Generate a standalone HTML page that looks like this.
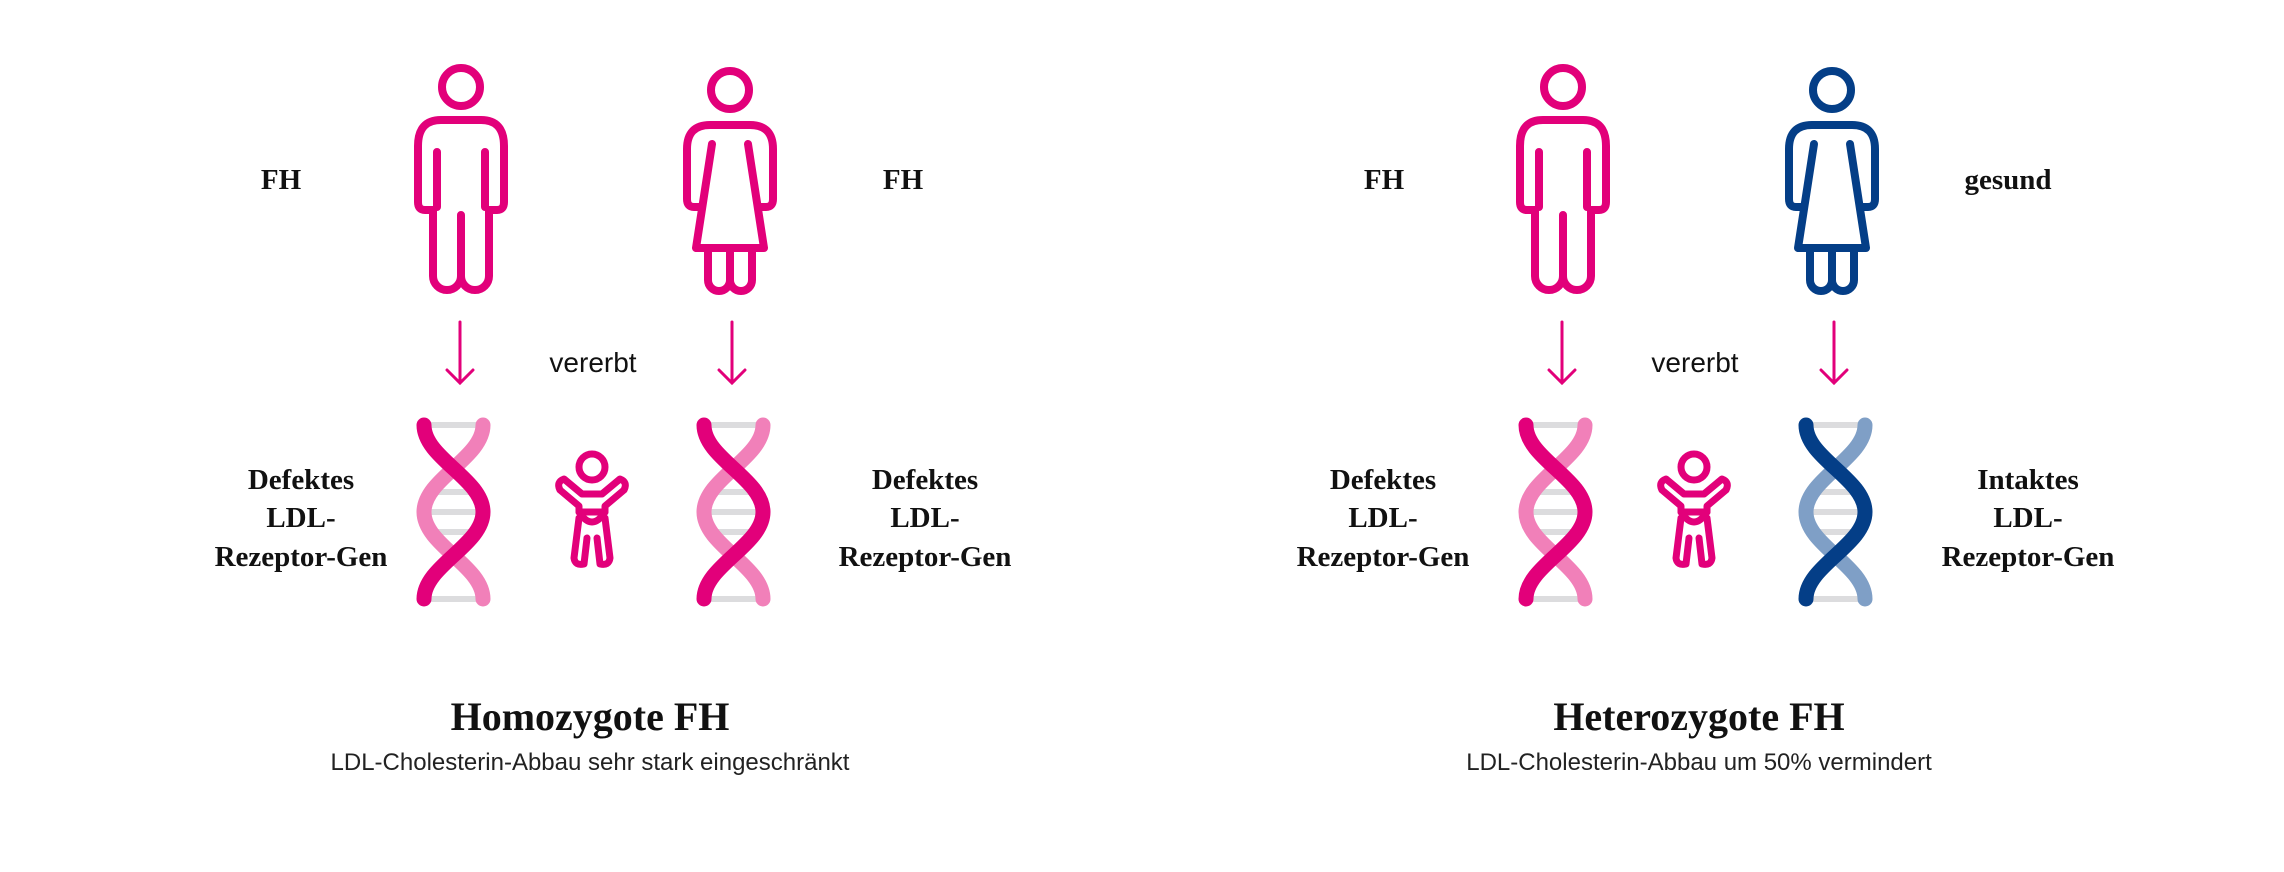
<!DOCTYPE html>
<html><head><meta charset="utf-8"><style>
html,body{margin:0;padding:0;background:#fff;}
svg{display:block;}
.lbl{font-family:"Liberation Serif",serif;font-weight:bold;font-size:29px;fill:#111;text-anchor:middle;}
.ttl{font-family:"Liberation Serif",serif;font-weight:bold;font-size:40px;fill:#111;text-anchor:middle;}
.sub{font-family:"Liberation Sans",sans-serif;font-size:24px;fill:#222;text-anchor:middle;}
.ver{font-family:"Liberation Sans",sans-serif;font-size:28px;fill:#111;text-anchor:middle;}
</style></head><body>
<svg width="2284" height="872" viewBox="0 0 2284 872" xmlns="http://www.w3.org/2000/svg">
<defs>
  <g id="man" fill="none" stroke-width="8" stroke-linecap="round" stroke-linejoin="round">
    <circle cx="0" cy="87" r="19"/>
    <path d="M -28,210 L -28,276 A 14,14 0 0 0 0,276 A 14,14 0 0 0 28,276 L 28,210 L 36,210 Q 43,210 43,202 L 43,146 Q 43,120 20,120 L -20,120 Q -43,120 -43,146 L -43,202 Q -43,210 -36,210 Z"/>
    <path d="M -24,152 L -24,207 M 24,152 L 24,207 M 0,215 L 0,276"/>
  </g>
  <g id="woman" fill="none" stroke-width="8" stroke-linecap="round" stroke-linejoin="round">
    <circle cx="0" cy="90" r="19"/>
    <path d="M -22,248 L -22,280 A 11,11 0 0 0 0,280 A 11,11 0 0 0 22,280 L 22,248 M 0,251 L 0,280"/>
    <path d="M -18,144 L -34,248 L 34,248 L 18,144"/>
    <path d="M -30,207 L -36,207 Q -43,207 -43,199 L -43,149 Q -43,125 -20,125 L 20,125 Q 43,125 43,149 L 43,199 Q 43,207 36,207 L 30,207"/>
  </g>
  <g id="arrow" fill="none" stroke="#e2007a" stroke-width="3" stroke-linecap="round">
    <path d="M 0,322 L 0,383 M -13,370 L 0,383 L 13,370"/>
  </g>
  <g id="rungs" stroke="#dcdcde" stroke-width="6">
    <path d="M 7,425 L 66,425 M 10,492 L 63,492 M 8,512 L 65,512 M 10,532 L 63,532 M 7,599 L 66,599"/>
  </g>
  <path id="sA" d="M 7,425 C 7,458 66,479 66,512 C 66,545 7,566 7,599" fill="none" stroke-width="15" stroke-linecap="round"/>
  <path id="sB" d="M 66,425 C 66,458 7,479 7,512 C 7,545 66,566 66,599" fill="none" stroke-width="15" stroke-linecap="round"/>
  <g id="baby" fill="none" stroke="#e2007a" stroke-width="7" stroke-linecap="round" stroke-linejoin="round">
    <circle cx="0" cy="467" r="13"/>
    <path d="M -13,512 L -13,506 L -32,490 Q -36,482 -28,479 L -10,494 L 10,494 L 28,479 Q 36,482 32,490 L 13,506 L 13,512 Z"/>
    <path d="M -13,512 Q 0,532 13,512"/>
    <path d="M -13,518 L -18,558 Q -17,566 -8,564 L -5,538 M 13,518 L 18,558 Q 17,566 8,564 L 5,538"/>
  </g>
</defs>

<!-- LEFT PANEL -->
<use href="#man" x="461" stroke="#e2007a"/>
<use href="#woman" x="730" stroke="#e2007a"/>
<use href="#arrow" x="460"/>
<use href="#arrow" x="732"/>
<text class="ver" x="593" y="372">vererbt</text>
<g transform="translate(417,0)"><use href="#rungs"/><use href="#sB" stroke="#f180b9"/><use href="#sA" stroke="#e2007a"/></g>
<g transform="translate(697,0)"><use href="#rungs"/><use href="#sB" stroke="#f180b9"/><use href="#sA" stroke="#e2007a"/></g>
<use href="#baby" x="592"/>
<text class="lbl" x="281" y="189">FH</text>
<text class="lbl" x="903" y="189">FH</text>
<text class="lbl" x="301" y="489">Defektes</text>
<text class="lbl" x="301" y="527">LDL-</text>
<text class="lbl" x="301" y="566">Rezeptor-Gen</text>
<text class="lbl" x="925" y="489">Defektes</text>
<text class="lbl" x="925" y="527">LDL-</text>
<text class="lbl" x="925" y="566">Rezeptor-Gen</text>
<text class="ttl" x="590" y="730">Homozygote FH</text>
<text class="sub" x="590" y="770">LDL-Cholesterin-Abbau sehr stark eingeschränkt</text>

<!-- RIGHT PANEL -->
<g transform="translate(1102,0)">
<use href="#man" x="461" stroke="#e2007a"/>
<use href="#woman" x="730" stroke="#043e87"/>
<use href="#arrow" x="460"/>
<use href="#arrow" x="732"/>
<text class="ver" x="593" y="372">vererbt</text>
<g transform="translate(417,0)"><use href="#rungs"/><use href="#sB" stroke="#f180b9"/><use href="#sA" stroke="#e2007a"/></g>
<g transform="translate(697,0)"><use href="#rungs"/><use href="#sB" stroke="#7f9fc6"/><use href="#sA" stroke="#043e87"/></g>
<use href="#baby" x="592"/>
</g>
<text class="lbl" x="1384" y="189">FH</text>
<text class="lbl" x="2008" y="189">gesund</text>
<text class="lbl" x="1383" y="489">Defektes</text>
<text class="lbl" x="1383" y="527">LDL-</text>
<text class="lbl" x="1383" y="566">Rezeptor-Gen</text>
<text class="lbl" x="2028" y="489">Intaktes</text>
<text class="lbl" x="2028" y="527">LDL-</text>
<text class="lbl" x="2028" y="566">Rezeptor-Gen</text>
<text class="ttl" x="1699" y="730">Heterozygote FH</text>
<text class="sub" x="1699" y="770">LDL-Cholesterin-Abbau um 50% vermindert</text>
</svg>
</body></html>
